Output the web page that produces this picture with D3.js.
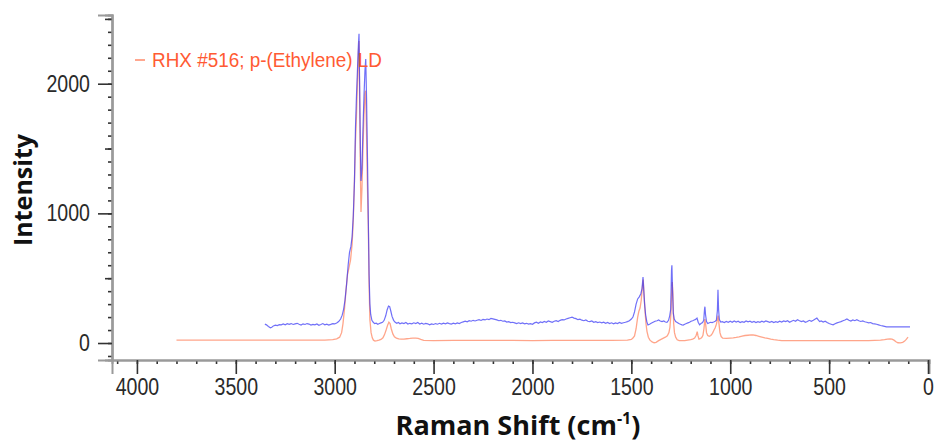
<!doctype html>
<html>

<head>
    <title>raman spectrum</title>
    <style>
        body { margin: 0; background: #fff; }
        .tick text { font-family: "Liberation Sans", Arial, sans-serif; fill: #2a2a2a; }
    </style>
    <script src="https://d3js.org/d3.v7.min.js"></script>
</head>

<body>
    <svg width="935" height="446"></svg>
    <script>

        // spectra: [raman shift, intensity]
        var blueSpectrum = [
            [3353,146],[3345,140],[3335,128],[3325,118],[3318,122],[3310,132],[3300,138],[3290,135],[3280,142],[3270,140],
            [3260,147],[3250,141],[3240,149],[3230,144],[3220,150],[3210,143],[3200,148],[3190,152],[3180,145],[3170,139],
            [3160,148],[3150,143],[3140,150],[3130,146],[3120,138],[3110,144],[3100,140],[3090,147],[3080,137],[3070,143],
            [3060,150],[3050,141],[3040,146],[3030,139],[3020,144],[3010,150],[3000,147],[2990,155],[2980,165],[2970,185],
            [2962,215],[2955,260],[2948,330],[2940,450],[2932,600],[2925,700],[2918,745],[2912,820],[2906,980],[2900,1250],
            [2895,1650],[2890,1900],[2885,2100],[2880,2300],[2877,2385],[2874,2000],[2870,1500],[2867,1250],[2862,1350],[2857,1650],
            [2852,1900],[2847,2100],[2843,2190],[2839,1900],[2834,1400],[2830,950],[2826,520],[2822,300],[2818,220],[2812,175],
            [2805,160],[2798,150],[2790,153],[2782,145],[2774,150],[2766,155],[2758,160],[2750,175],[2742,210],[2735,255],
            [2728,285],[2722,280],[2716,245],[2710,205],[2702,175],[2694,160],[2686,152],[2678,158],[2670,148],[2660,155],
            [2650,150],[2640,158],[2630,146],[2620,152],[2610,148],[2600,156],[2590,150],[2580,158],[2570,147],[2560,153],
            [2550,145],[2540,151],[2530,148],[2520,140],[2510,147],[2500,143],[2490,150],[2480,145],[2470,152],[2460,146],
            [2450,153],[2440,148],[2430,155],[2420,150],[2410,146],[2400,153],[2390,148],[2380,155],[2370,150],[2360,158],
            [2350,163],[2340,168],[2330,164],[2320,172],[2310,168],[2300,175],[2290,170],[2280,176],[2270,180],[2260,174],
            [2250,182],[2240,178],[2230,185],[2220,180],[2210,190],[2200,186],[2190,182],[2180,178],[2170,172],[2160,175],
            [2150,168],[2140,170],[2130,162],[2120,165],[2110,158],[2100,160],[2090,155],[2080,150],[2070,156],[2060,150],
            [2050,155],[2040,148],[2030,152],[2020,146],[2010,150],[2000,145],[1990,155],[1980,160],[1970,152],[1960,162],
            [1950,158],[1940,166],[1930,160],[1920,170],[1910,165],[1900,160],[1890,168],[1880,172],[1870,166],[1860,175],
            [1850,180],[1840,178],[1830,185],[1820,190],[1810,195],[1800,200],[1790,192],[1780,188],[1770,180],[1760,184],
            [1750,176],[1740,172],[1730,178],[1720,168],[1710,165],[1700,170],[1690,160],[1680,164],[1670,158],[1660,162],
            [1650,155],[1640,160],[1630,152],[1620,158],[1610,150],[1600,156],[1590,148],[1580,155],[1570,150],[1560,158],
            [1550,152],[1540,156],[1530,160],[1520,165],[1510,172],[1500,185],[1492,200],[1484,240],[1476,300],[1468,340],
            [1460,356],[1452,380],[1446,420],[1441,508],[1437,400],[1433,300],[1428,220],[1422,165],[1416,140],[1408,145],
            [1400,152],[1390,160],[1380,168],[1370,172],[1362,178],[1354,170],[1345,165],[1336,170],[1328,162],[1320,160],
            [1312,175],[1306,210],[1301,260],[1297,560],[1295,600],[1292,420],[1288,230],[1283,185],[1276,165],[1268,158],
            [1260,150],[1252,145],[1244,140],[1238,138],[1230,145],[1222,150],[1214,155],[1206,160],[1198,168],[1190,172],
            [1182,178],[1175,182],[1168,192],[1162,160],[1155,140],[1148,150],[1140,158],[1134,175],[1130,260],[1128,280],
            [1125,220],[1120,165],[1114,150],[1108,155],[1100,160],[1092,158],[1084,162],[1076,168],[1070,176],[1065,250],
            [1062,410],[1059,260],[1055,180],[1048,162],[1040,165],[1030,158],[1020,166],[1010,160],[1000,168],[990,160],
            [980,170],[970,162],[960,168],[950,158],[940,165],[930,160],[920,170],[910,163],[900,168],[890,160],
            [880,166],[870,158],[860,164],[850,160],[840,168],[830,162],[820,170],[810,165],[800,160],[790,166],
            [780,158],[770,164],[760,160],[750,168],[740,162],[730,170],[720,165],[710,172],[700,160],[690,168],
            [680,175],[670,168],[660,180],[650,172],[640,165],[630,170],[620,160],[610,166],[600,175],[590,168],
            [580,176],[570,185],[562,192],[555,178],[548,165],[540,170],[530,162],[520,168],[510,158],[500,150],
            [490,145],[480,140],[470,148],[460,155],[450,160],[440,165],[430,172],[420,178],[410,186],[400,176],
            [390,170],[380,178],[370,172],[360,180],[350,172],[340,166],[330,170],[320,164],[310,160],[300,155],
            [290,158],[280,150],[270,148],[260,145],[250,140],[240,135],[230,132],[220,128],[210,124],[200,124],
            [150,124],[91,124]
        ];

        var orangeSpectrum = [
            [3800,22],[3500,22],[3200,22],[3050,23],[3010,26],[2990,32],[2975,45],[2965,80],[2958,150],[2950,270],
            [2942,420],[2935,530],[2928,580],[2920,640],[2912,760],[2906,950],[2900,1250],[2895,1550],[2890,1750],[2885,2000],
            [2880,2250],[2877,2330],[2874,1900],[2870,1300],[2867,1010],[2862,1200],[2857,1500],[2852,1750],[2847,1920],[2844,1946],
            [2840,1700],[2835,1250],[2830,900],[2826,450],[2822,180],[2816,80],[2810,40],[2804,22],[2796,15],[2786,18],
            [2776,22],[2766,28],[2756,40],[2748,65],[2740,100],[2732,140],[2726,160],[2720,150],[2714,110],[2706,70],
            [2698,48],[2688,38],[2676,32],[2664,30],[2650,30],[2635,33],[2620,35],[2605,38],[2590,38],[2578,36],
            [2565,28],[2550,20],[2500,19],[2400,20],[2300,21],[2200,20],[2100,20],[2000,19],[1900,20],[1800,21],
            [1700,20],[1600,20],[1520,22],[1500,28],[1492,38],[1484,55],[1476,110],[1468,200],[1462,245],[1456,270],
            [1450,330],[1445,420],[1440,490],[1436,380],[1431,250],[1426,150],[1421,90],[1414,45],[1406,22],[1395,8],
            [1385,2],[1375,5],[1362,18],[1350,28],[1338,38],[1328,45],[1318,55],[1310,80],[1305,120],[1300,220],
            [1296,400],[1293,470],[1290,380],[1286,150],[1282,80],[1276,45],[1268,25],[1258,18],[1245,18],[1230,18],
            [1215,22],[1200,26],[1190,30],[1180,38],[1172,60],[1167,88],[1163,55],[1158,30],[1150,35],[1144,42],
            [1138,60],[1133,110],[1128,185],[1124,140],[1120,80],[1114,58],[1106,52],[1098,58],[1090,75],[1082,100],
            [1076,118],[1070,145],[1065,180],[1061,212],[1057,150],[1052,80],[1046,50],[1038,38],[1020,36],[1000,38],
            [985,40],[970,43],[955,48],[940,54],[925,58],[910,60],[895,62],[885,63],[870,58],[855,52],
            [840,46],[825,40],[810,35],[795,30],[780,26],[760,22],[740,19],[700,18],[600,18],[500,18],
            [400,19],[300,19],[240,22],[220,26],[205,30],[192,32],[182,30],[172,22],[162,10],[152,2],
            [140,1],[128,5],[118,15],[110,28],[101,45]
        ];

        var legendLabel = "RHX #516; p-(Ethylene) LD";

        var xMajorTicks = [4000, 3500, 3000, 2500, 2000, 1500, 1000, 500, 0];
        var xMinorTicks = d3.range(0, 4101, 100);
        var yMajorTicks = [0, 1000, 2000];
        var yMidTicks = [500, 1500, 2500];
        var yMinorTicks = d3.range(-100, 2501, 100);

        var svg = d3.select("svg");

        var x = d3.scaleLinear().domain([4126, -5]).range([112, 929]);
        var y = d3.scaleLinear().domain([-131, 2530]).range([360, 15]);

        var axisColor = "#9a9a9a";
        var tickColor = "#333";
        var fmt = d3.format("d");

        // x axis: minor ticks first, then labelled major ticks
        var gx = svg.append("g").attr("transform", "translate(0,360)");
        gx.append("g")
            .call(d3.axisBottom(x).tickValues(xMinorTicks).tickSize(4).tickFormat(""));
        gx.append("g")
            .call(d3.axisBottom(x).tickValues(xMajorTicks).tickSize(14).tickPadding(5).tickFormat(fmt));
        gx.selectAll("path.domain").attr("stroke", axisColor).attr("stroke-width", 2);
        gx.selectAll(".tick line").attr("stroke", tickColor).attr("stroke-width", 1.6);
        gx.selectAll(".tick text")
            .attr("font-size", 23)
            .attr("transform", "scale(0.85,1)");

        // y axis
        var gy = svg.append("g").attr("transform", "translate(112,0)");
        gy.append("g")
            .call(d3.axisLeft(y).tickValues(yMinorTicks).tickSize(4).tickFormat(""));
        gy.append("g")
            .call(d3.axisLeft(y).tickValues(yMidTicks).tickSize(7).tickFormat(""));
        gy.append("g")
            .call(d3.axisLeft(y).tickValues(yMajorTicks).tickSize(14).tickPadding(12).tickFormat(fmt));
        gy.selectAll("path.domain").attr("stroke", axisColor).attr("stroke-width", 2);
        gy.selectAll(".tick line").attr("stroke", tickColor).attr("stroke-width", 1.6);
        gy.selectAll(".tick text")
            .attr("font-size", 23)
            .attr("transform", "scale(0.85,1)");

        // spectra
        var line = d3.line()
            .x(function (d) { return x(d[0]); })
            .y(function (d) { return y(d[1]); });

        svg.append("path")
            .datum(orangeSpectrum)
            .attr("fill", "none")
            .attr("stroke", "#ff9575")
            .attr("stroke-opacity", 0.85)
            .attr("stroke-width", 1.3)
            .attr("d", line);

        svg.append("path")
            .datum(blueSpectrum)
            .attr("fill", "none")
            .attr("stroke", "#3333f5")
            .attr("stroke-opacity", 0.7)
            .attr("stroke-width", 1.2)
            .attr("d", line);

        // legend
        svg.append("line")
            .attr("x1", 135).attr("x2", 145)
            .attr("y1", 60).attr("y2", 60)
            .attr("stroke", "#ff8a6a")
            .attr("stroke-width", 1.5);

        svg.append("text")
            .attr("transform", "translate(152,67) scale(0.9,1)")
            .attr("font-family", "Liberation Sans, Arial, sans-serif")
            .attr("font-size", 21)
            .attr("fill", "#ff5a33")
            .text(legendLabel);

        // axis titles
        svg.append("text")
            .attr("transform", "translate(32,190) rotate(-90)")
            .attr("text-anchor", "middle")
            .attr("font-family", "Open Sans, sans-serif")
            .attr("font-weight", "bold")
            .attr("font-size", 25)
            .attr("fill", "#111")
            .text("Intensity");

        var xt = svg.append("text")
            .attr("x", 518)
            .attr("y", 435)
            .attr("text-anchor", "middle")
            .attr("font-family", "Open Sans, sans-serif")
            .attr("font-weight", "bold")
            .attr("font-size", 27)
            .attr("fill", "#111");
        xt.append("tspan").text("Raman Shift (cm");
        xt.append("tspan").attr("font-size", 16).attr("dy", -11).text("-1");
        xt.append("tspan").attr("dy", 11).text(")");

    </script>
</body>

</html>
